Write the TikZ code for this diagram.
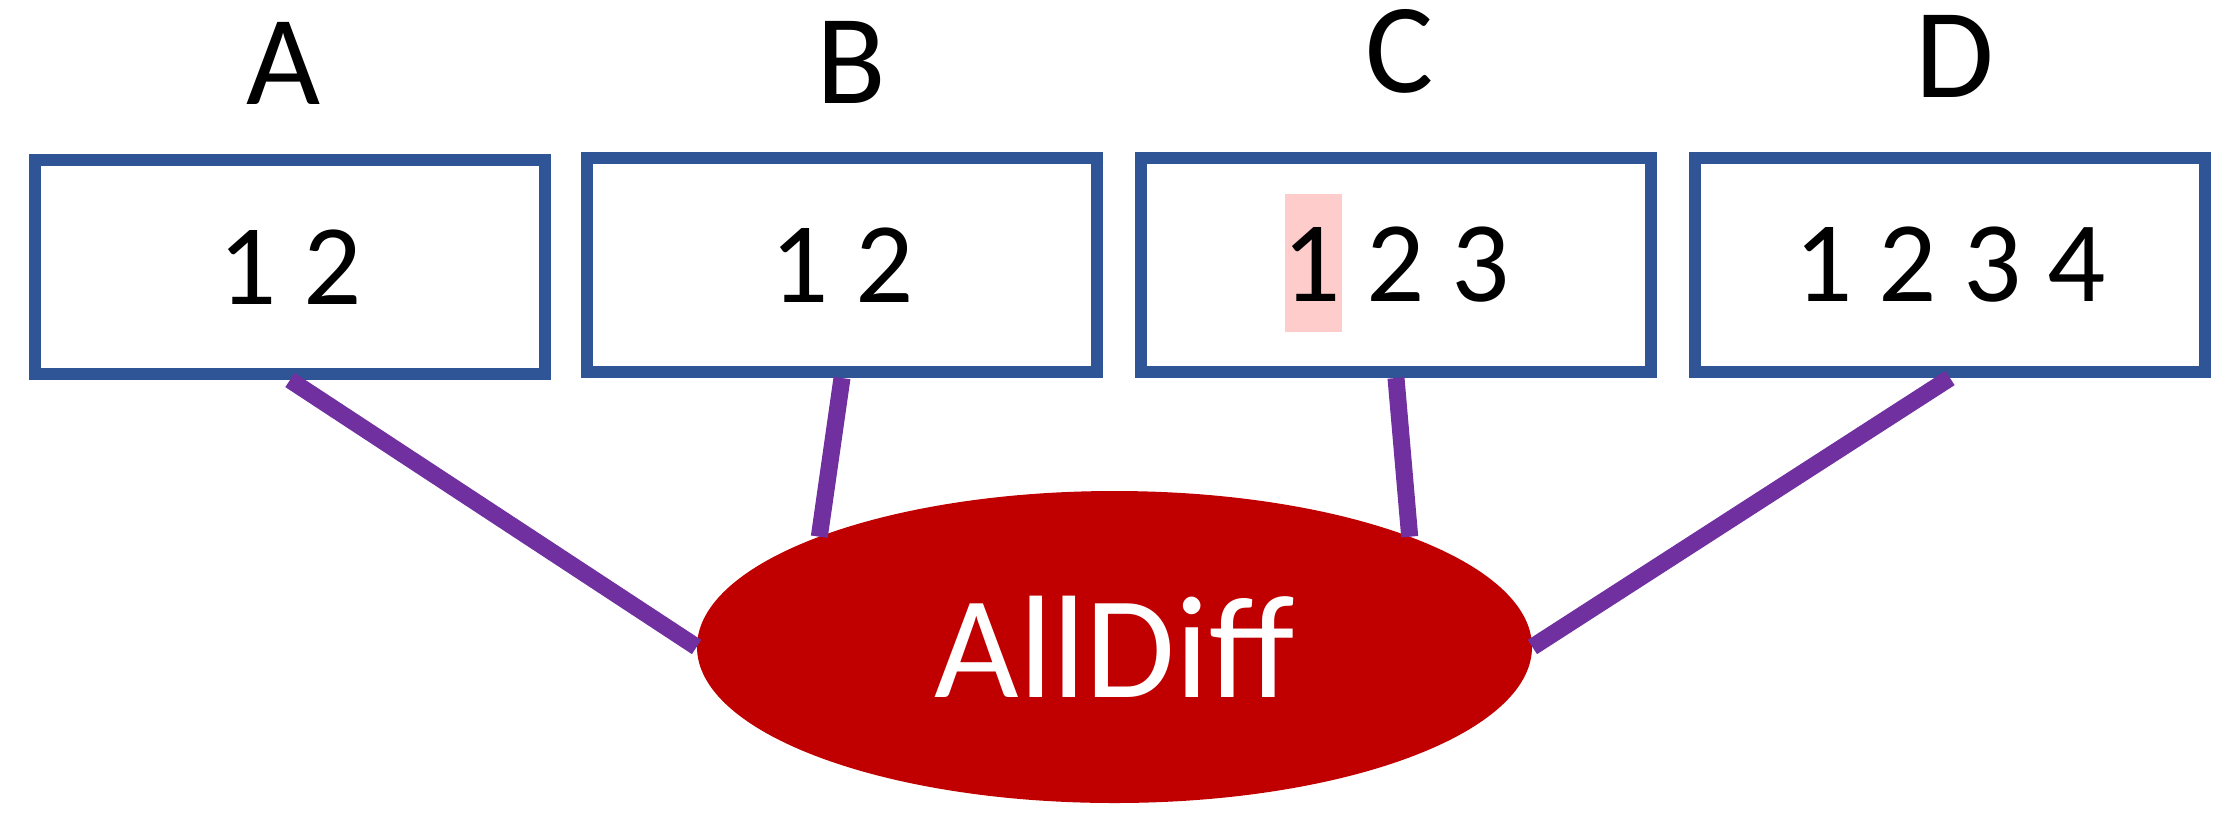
\documentclass[tikz,border=0pt]{standalone}
\usepackage{fontspec}
\setmainfont{Carlito}
\usetikzlibrary{shapes.geometric,calc}
\definecolor{boxblue}{HTML}{2F5597}
\definecolor{linkpurple}{HTML}{7030A0}
\definecolor{allred}{HTML}{C00000}
\definecolor{hlpink}{HTML}{FFCCCC}
\begin{document}
\begin{tikzpicture}[x=0.5pt,y=-0.5pt,
  varbox/.style={draw=boxblue, line width=6pt, rectangle, inner sep=0pt,
    minimum width=255pt, minimum height=107pt,
    font=\fontsize{57.5pt}{60pt}\selectfont},
  varlabel/.style={anchor=base, inner sep=0pt, font=\fontsize{64pt}{70pt}\selectfont},
  constraint/.style={ellipse, fill=allred, inner sep=0pt,
    minimum width=417.5pt, minimum height=156pt, text=white,
    font=\fontsize{73pt}{80pt}\selectfont},
  link/.style={draw=linkpurple, line width=8.5pt},
]
\useasboundingbox (0,0) rectangle (2240,832);
% highlight behind the 1 of C
\fill[hlpink] (1285,194) rectangle (1342,332);
% domain boxes
\node[varbox] (A) at (290,267) {1 2};
\node[varbox] (B) at (842,265) {1 2};
\node[varbox] (C) at (1396,265) {1 2 3};
\node[varbox] (D) at (1950,265) {1 2 3 4};
% variable names
\node[varlabel] (lA) at (284,104) {A};
\node[varlabel] (lB) at (851,103) {B};
\node[varlabel] (lC) at (1400,92) {C};
\node[varlabel] (lD) at (1955,97) {D};
% constraint
\node[constraint] (E) at (1114.5,647) {AllDiff};
\coordinate (eB) at ($(E.center)+(-295.2,-110.3)$);
\coordinate (eC) at ($(E.center)+(295.2,-110.3)$);
% connectors
\draw[link] (A.south) -- (E.west);
\draw[link] (B.south) -- (eB);
\draw[link] (C.south) -- (eC);
\draw[link] (D.south) -- (E.east);
\end{tikzpicture}
\end{document}
